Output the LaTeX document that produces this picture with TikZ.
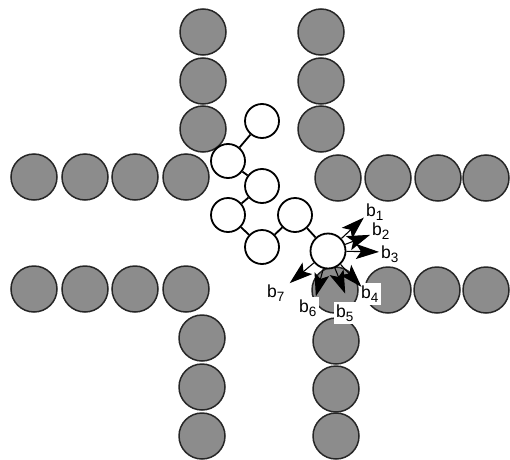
\documentclass[tikz,border=0pt]{standalone}
\usepackage{fontspec}
\setmainfont{Liberation Sans}
\usetikzlibrary{arrows.meta}
\newcommand\bsub[1]{b\raisebox{-4pt}{\fontsize{13.5}{13.5}\selectfont #1}}
\begin{document}
\begin{tikzpicture}[x=1pt,y=1pt,
  wall/.style={circle, draw=black!85, line width=1.5pt, fill=black!45, minimum size=46pt, inner sep=0pt},
  bead/.style={circle, draw=black, line width=1.8pt, fill=white, minimum size=34pt, inner sep=0pt},
  bond/.style={line width=1.8pt},
  sensor/.style={line width=1.1pt, -{Stealth[length=23pt,width=15pt,inset=5pt]}},
  lab/.style={font=\fontsize{17.5}{17.5}\selectfont, anchor=base west, inner sep=0pt},
  labbox/.style={lab, fill=white, inner sep=2.5pt}]
\useasboundingbox (0,0) rectangle (510,459);
% obstacles
\foreach \p [count=\i] in {
  {203,427},{203,378},{203,330},
  {321,427},{321,378},{321,330},
  {34,282},{85,282},{135,282},{186,282},
  {338,281},{388,281},{438,281},{486,281},
  {34,170},{85,170},{135,170},{186,170},
  {202,121},{202,72},{202,23},
  {388,169},{437,169},{486,169},
  {335,169},{336,118},{336,70},{336,23}}
  \node[wall] (g\i) at (\p) {};
% labels with white backing
\node[labbox] (l4) at (358.5,161) {\bsub{4}};
\node[labbox] (l5) at (333.5,142) {\bsub{5}};
\node[labbox] (l6) at (296.5,147) {\bsub{6}};
\node[lab] (l1) at (366,243) {\bsub{1}};
\node[lab] (l2) at (372,224) {\bsub{2}};
\node[lab] (l3) at (381,201) {\bsub{3}};
\node[lab] (l7) at (267,162) {\bsub{7}};
% chain
\node[bead] (w1) at (262,338) {};
\node[bead] (w2) at (228,298) {};
\node[bead] (w3) at (262,273) {};
\node[bead] (w4) at (228,244) {};
\node[bead] (w5) at (262,212) {};
\node[bead] (w6) at (295,244) {};
\node[bead, minimum size=35pt] (w7) at (328,208) {};
\draw[bond] (w1) -- (w2);
\draw[bond] (w2) -- (w3);
\draw[bond] (w3) -- (w4);
\draw[bond] (w4) -- (w5);
\draw[bond] (w5) -- (w6);
\draw[bond] (w6) -- (w7);
% sensor beams
\path (w7) ++(43:49) coordinate (t1);
\path (w7) ++(21:45) coordinate (t2);
\path (w7) ++(-1:51) coordinate (t3);
\path (w7) ++(-47:49) coordinate (t4);
\path (w7) ++(-68:46) coordinate (t5);
\path (w7) ++(-105:47) coordinate (t6);
\path (w7) ++(-140:50) coordinate (t7);
\foreach \i in {1,...,7} \draw[sensor] (w7) -- (t\i);
\end{tikzpicture}
\end{document}
